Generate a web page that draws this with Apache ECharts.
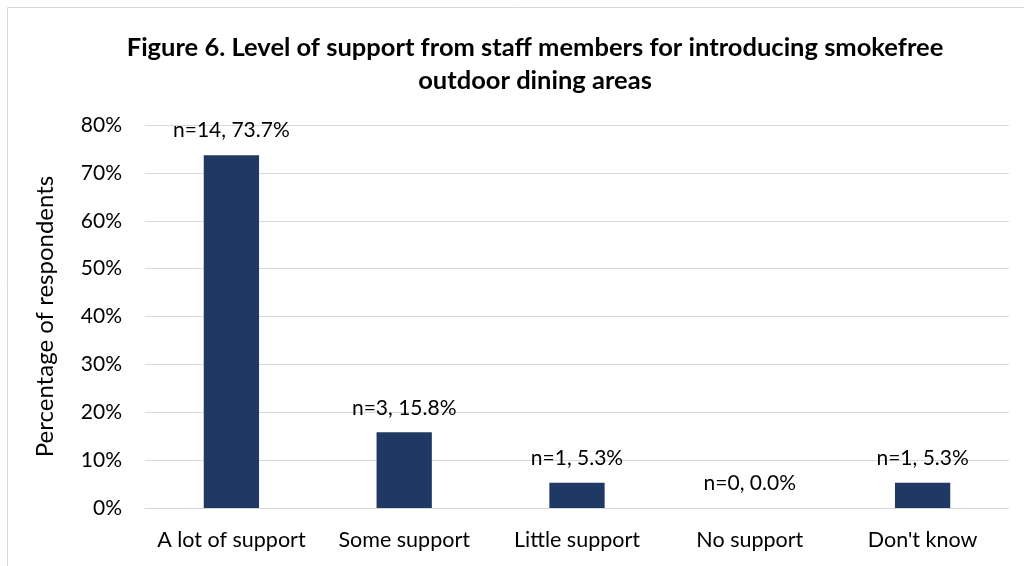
<!DOCTYPE html>
<html>
<head>
<meta charset="utf-8">
<script src="https://cdn.jsdelivr.net/npm/echarts@6/dist/echarts.min.js"></script>
<style>
  html, body { margin: 0; padding: 0; background: #fff; }
  #chart { width: 1024px; height: 566px; }
</style>
</head>
<body>
<div id="chart"></div>
<script>
// Staff support for smokefree outdoor dining areas
const categories = ['A lot of support', 'Some support', 'Little support', 'No support', "Don't know"];
const counts = [14, 3, 1, 0, 1];
const percents = [73.7, 15.8, 5.3, 0.0, 5.3];
const yTicks = { min: 0, max: 80, interval: 10 };

const FONT = 'Lato';
const chart = echarts.init(document.getElementById('chart'), null, { renderer: 'canvas' });

chart.setOption({
  backgroundColor: '#ffffff',
  animation: false,
  textStyle: { fontFamily: FONT },
  title: {
    text: 'Figure 6. Level of support from staff members for introducing smokefree\noutdoor dining areas',
    left: 530,
    top: 26,
    textAlign: 'center',
    textStyle: {
      fontFamily: FONT,
      fontWeight: 'bold',
      fontSize: 25.5,
      lineHeight: 33,
      color: '#000000'
    }
  },
  graphic: [{
    type: 'rect',
    silent: true,
    shape: { x: 7.5, y: 7.5, width: 1040, height: 600 },
    style: { fill: 'none', stroke: '#d9d9d9', lineWidth: 1 }
  }],
  grid: { left: 145, right: 15, top: 125, bottom: 58, containLabel: false },
  xAxis: {
    type: 'category',
    data: categories,
    axisLine: { show: true, lineStyle: { color: '#d9d9d9', width: 1 } },
    axisTick: { show: false },
    axisLabel: { interval: 0, hideOverlap: false, color: '#000000', fontSize: 21.5, margin: 21, fontFamily: FONT }
  },
  yAxis: {
    type: 'value',
    min: yTicks.min,
    max: yTicks.max,
    interval: yTicks.interval,
    name: 'Percentage of respondents',
    nameLocation: 'middle',
    nameGap: 88,
    nameRotate: 90,
    nameTextStyle: { color: '#000000', fontSize: 24, fontFamily: FONT },
    axisLine: { show: false },
    axisTick: { show: false },
    axisLabel: { formatter: '{value}%', color: '#000000', fontSize: 21, margin: 23, fontFamily: FONT },
    splitLine: { lineStyle: { color: '#d9d9d9', width: 1 } }
  },
  series: [{
    type: 'bar',
    data: percents,
    barWidth: '32%',
    itemStyle: { color: '#203864' },
    label: {
      show: true,
      position: 'top',
      distance: 14,
      color: '#000000',
      fontSize: 21,
      fontFamily: FONT,
      formatter: p => 'n=' + counts[p.dataIndex] + ', ' + percents[p.dataIndex].toFixed(1) + '%'
    }
  }]
});
</script>
</body>
</html>
